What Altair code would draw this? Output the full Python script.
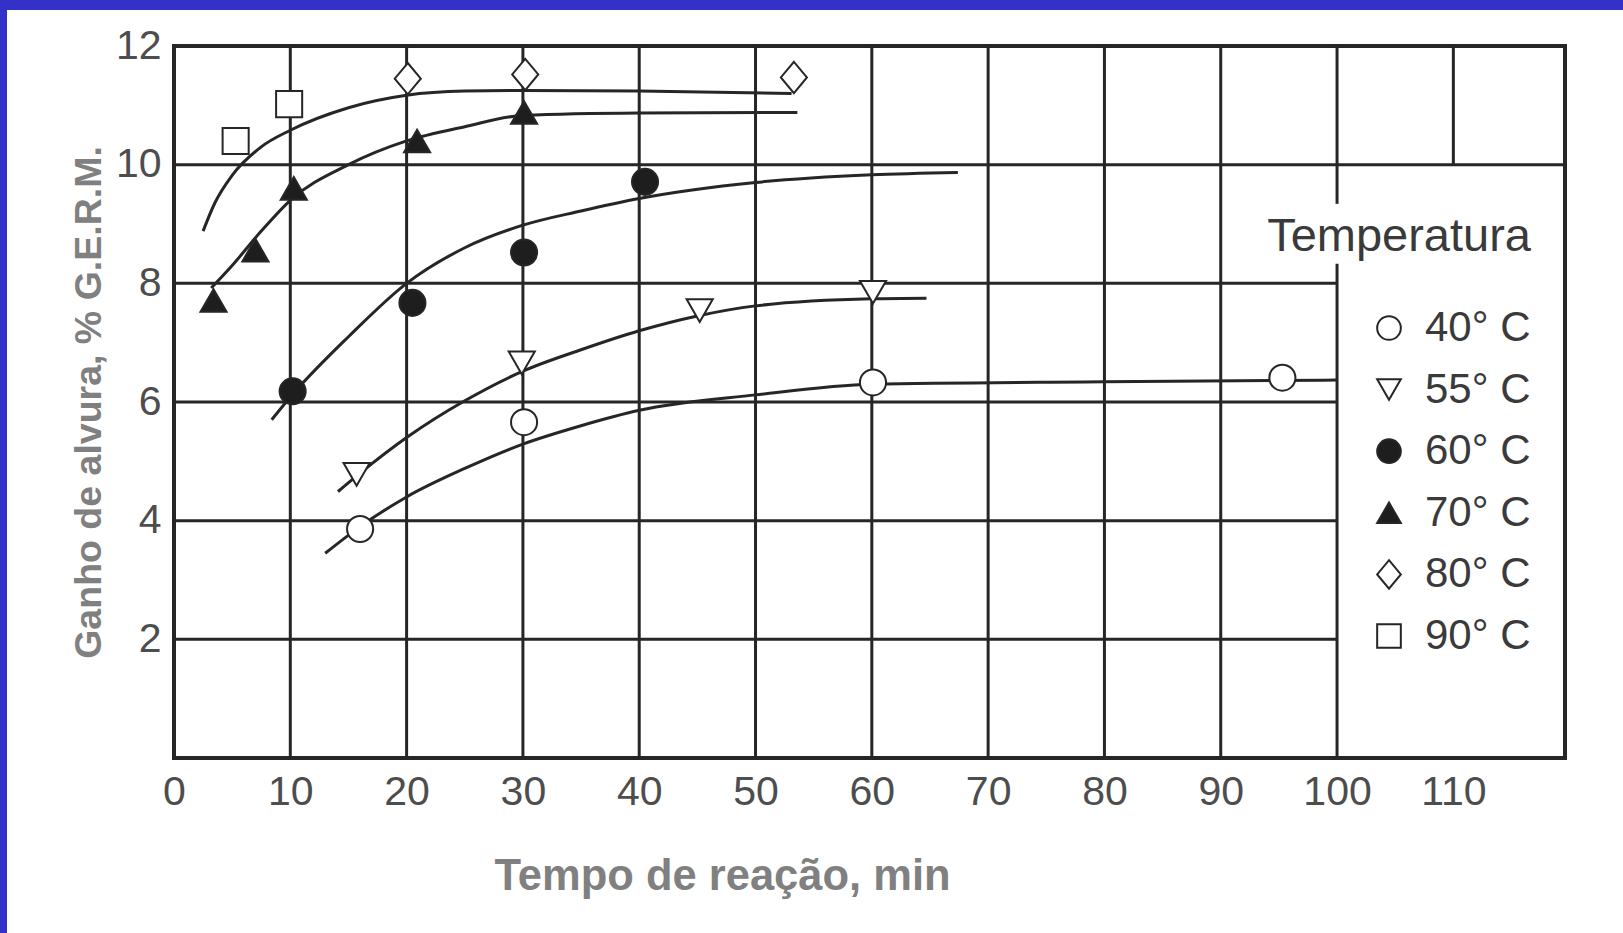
import altair as alt
import pandas as pd

# Series labels and their marker styles
temps = ["40° C", "55° C", "60° C", "70° C", "80° C", "90° C"]
shapes = ["circle", "triangle-down", "circle", "triangle-up",
          "M0,-1.2L1,0L0,1.2L-1,0Z", "square"]
fills = ["white", "white", "#1e1e1e", "#1e1e1e", "white", "white"]
strokes = ["#262626"] * 6

# Measured points: reaction time (min) and brightness gain (% G.E.R.M.)
pts_40_t = [16.0, 30.1, 60.1, 95.3]
pts_40_g = [3.86, 5.66, 6.33, 6.41]
pts_55_t = [15.7, 29.9, 45.2, 60.1]
pts_55_g = [4.78, 6.66, 7.54, 7.85]
pts_60_t = [10.2, 20.5, 30.1, 40.5]
pts_60_g = [6.18, 7.67, 8.52, 9.71]
pts_70_t = [3.4, 7.0, 10.3, 20.9, 30.1]
pts_70_g = [7.71, 8.56, 9.60, 10.40, 10.88]
pts_80_t = [20.1, 30.2, 53.3]
pts_80_g = [11.45, 11.52, 11.47]
pts_90_t = [5.3, 9.9]
pts_90_g = [10.40, 11.02]

# Fitted curves traced along each temperature
fit_40_t = [13.0, 16, 20, 25, 30, 35, 40, 50, 60, 80, 100]
fit_40_g = [3.45, 3.90, 4.40, 4.88, 5.29, 5.60, 5.86, 6.12, 6.30, 6.34, 6.37]
fit_55_t = [14.1, 16, 20, 25, 30, 35, 40, 45, 50, 60, 64.7]
fit_55_g = [4.49, 4.80, 5.40, 6.02, 6.52, 6.88, 7.20, 7.45, 7.62, 7.74, 7.75]
fit_60_t = [8.4, 10.3, 15, 20, 25, 30, 35, 40, 50, 60, 67.4]
fit_60_g = [5.70, 6.15, 7.10, 8.00, 8.60, 8.98, 9.22, 9.43, 9.70, 9.83, 9.87]
fit_70_t = [3.2, 5, 7.5, 10, 15, 20, 25, 30, 40, 53.6]
fit_70_g = [7.92, 8.30, 8.88, 9.40, 10.00, 10.40, 10.64, 10.83, 10.87, 10.88]
fit_80_t = [2.5, 3.5, 5, 7.5, 10, 15, 20, 25, 30, 40, 53.1]
fit_80_g = [8.88, 9.35, 9.82, 10.30, 10.58, 10.96, 11.17, 11.24, 11.25, 11.24, 11.20]

# Axis ticks and grid layout
x_ticks = [0, 10, 20, 30, 40, 50, 60, 70, 80, 90, 100, 110]
y_ticks = [2, 4, 6, 8, 10, 12]
x_max = 119.6
y_max = 12
v_grid_x = [10, 20, 30, 40, 50, 60, 70, 80, 90, 100, 100, 110]
v_grid_y0 = [0, 0, 0, 0, 0, 0, 0, 0, 0, 0, 9.34, 10]
v_grid_y1 = [12, 12, 12, 12, 12, 12, 12, 12, 12, 8.33, 12, 12]
h_grid_y = [2, 4, 6, 8, 10]
h_grid_x0 = [0, 0, 0, 0, 0]
h_grid_x1 = [100, 100, 100, 100, x_max]

W, H = 1391, 712
PAD_L, PAD_T = 174, 46
INK = "#262626"
LABEL = "#4d4d4d"
TITLE_GRAY = "#808080"
BOLD_TITLE = "Liberation Sans Narrow, Liberation Sans, Arial, sans-serif"
SANS = "Liberation Sans, Arial, sans-serif"

pts = pd.DataFrame({
    "t": pts_40_t + pts_55_t + pts_60_t + pts_70_t + pts_80_t + pts_90_t,
    "g": pts_40_g + pts_55_g + pts_60_g + pts_70_g + pts_80_g + pts_90_g,
    "temp": ([temps[0]] * len(pts_40_t) + [temps[1]] * len(pts_55_t)
             + [temps[2]] * len(pts_60_t) + [temps[3]] * len(pts_70_t)
             + [temps[4]] * len(pts_80_t) + [temps[5]] * len(pts_90_t)),
})
fits = pd.DataFrame({
    "t": fit_40_t + fit_55_t + fit_60_t + fit_70_t + fit_80_t,
    "g": fit_40_g + fit_55_g + fit_60_g + fit_70_g + fit_80_g,
    "temp": ([temps[0]] * len(fit_40_t) + [temps[1]] * len(fit_55_t)
             + [temps[2]] * len(fit_60_t) + [temps[3]] * len(fit_70_t)
             + [temps[4]] * len(fit_80_t)),
})
vgrid = pd.DataFrame({"x": v_grid_x, "y0": v_grid_y0, "y1": v_grid_y1})
hgrid = pd.DataFrame({"y": h_grid_y, "x0": h_grid_x0, "x1": h_grid_x1})

x_title = "Tempo de reação, min"
y_title = "Ganho de alvura, % G.E.R.M."


def xenc(field):
    return alt.X(
        field, type="quantitative", title=x_title,
        scale=alt.Scale(domain=[0, x_max], nice=False, zero=False),
        axis=alt.Axis(
            values=x_ticks, grid=False, ticks=False, domain=False,
            labelFont=SANS, labelFontSize=41, labelColor=LABEL, labelPadding=14,
            labelFlush=False,
            titleFont=BOLD_TITLE, titleFontSize=43.5, titleFontWeight="bold",
            titleColor=TITLE_GRAY, titleX=548, titleY=131,
            titleAlign="center", titleBaseline="alphabetic",
        ),
    )


def yenc(field):
    return alt.Y(
        field, type="quantitative", title=y_title,
        scale=alt.Scale(domain=[0, y_max], nice=False, zero=False),
        axis=alt.Axis(
            values=y_ticks, grid=False, ticks=False, domain=False,
            labelFont=SANS, labelFontSize=41, labelColor=LABEL, labelPadding=13,
            labelFlush=False,
            titleFont=BOLD_TITLE, titleFontSize=37.5, titleFontWeight="bold",
            titleColor=TITLE_GRAY, titleX=-85, titleY=H / 2,
            titleAngle=270, titleAlign="center", titleBaseline="middle",
        ),
    )


vrules = alt.Chart(vgrid).mark_rule(color=INK, strokeWidth=3).encode(
    x=xenc("x"), y=yenc("y0"), y2="y1"
)
hrules = alt.Chart(hgrid).mark_rule(color=INK, strokeWidth=3).encode(
    y=yenc("y"), x=xenc("x0"), x2="x1"
)

curves = alt.Chart(fits).mark_line(
    color=INK, strokeWidth=3, interpolate="monotone"
).encode(x=xenc("t"), y=yenc("g"), detail="temp:N")

# Title is right-aligned over the entries; legendX is the left of the title
legend = alt.Legend(
    orient="none", legendX=1093, legendY=168, padding=0,
    title="Temperatura", titleFont=SANS, titleFontSize=47, titleLimit=600,
    titleFontWeight="normal", titleColor="#3a3a3a", titleAnchor="end",
    titlePadding=46, labelFont=SANS, labelFontSize=42, labelColor="#3a3a3a",
    labelOffset=15, rowPadding=19.6, symbolSize=560, symbolStrokeWidth=2,
    symbolOpacity=1, labelLimit=400,
)

points = alt.Chart(pts).mark_point(
    filled=True, size=680, strokeWidth=2, opacity=1
).encode(
    x=xenc("t"), y=yenc("g"),
    shape=alt.Shape("temp:N", scale=alt.Scale(domain=temps, range=shapes),
                    legend=legend, title="Temperatura"),
    fill=alt.Fill("temp:N", scale=alt.Scale(domain=temps, range=fills),
                  legend=legend, title="Temperatura"),
    stroke=alt.Stroke("temp:N", scale=alt.Scale(domain=temps, range=strokes),
                      legend=legend, title="Temperatura"),
)

# Blue frame bands along the top and left edges of the page
band = pd.DataFrame({"edge": ["top"]})
top_band = alt.Chart(band).mark_rect(color="#3431c9").encode(
    x=alt.value(-PAD_L), x2=alt.value(1623 - PAD_L),
    y=alt.value(-PAD_T), y2=alt.value(-PAD_T + 10),
)
left_band = alt.Chart(band).mark_rect(color="#3431c9").encode(
    x=alt.value(-PAD_L), x2=alt.value(-PAD_L + 7),
    y=alt.value(-PAD_T), y2=alt.value(933 - PAD_T),
)

chart = alt.layer(
    vrules, hrules, curves, points, top_band, left_band
).properties(
    width=W, height=H,
    autosize=alt.AutoSizeParams(type="none"),
    padding={"left": PAD_L, "top": PAD_T, "right": 1623 - PAD_L - W,
             "bottom": 933 - PAD_T - H},
    background="white",
).configure_view(
    stroke=INK, strokeWidth=4, fill="white"
)

chart.save("out.html", embed_options={"renderer": "svg", "actions": False})
